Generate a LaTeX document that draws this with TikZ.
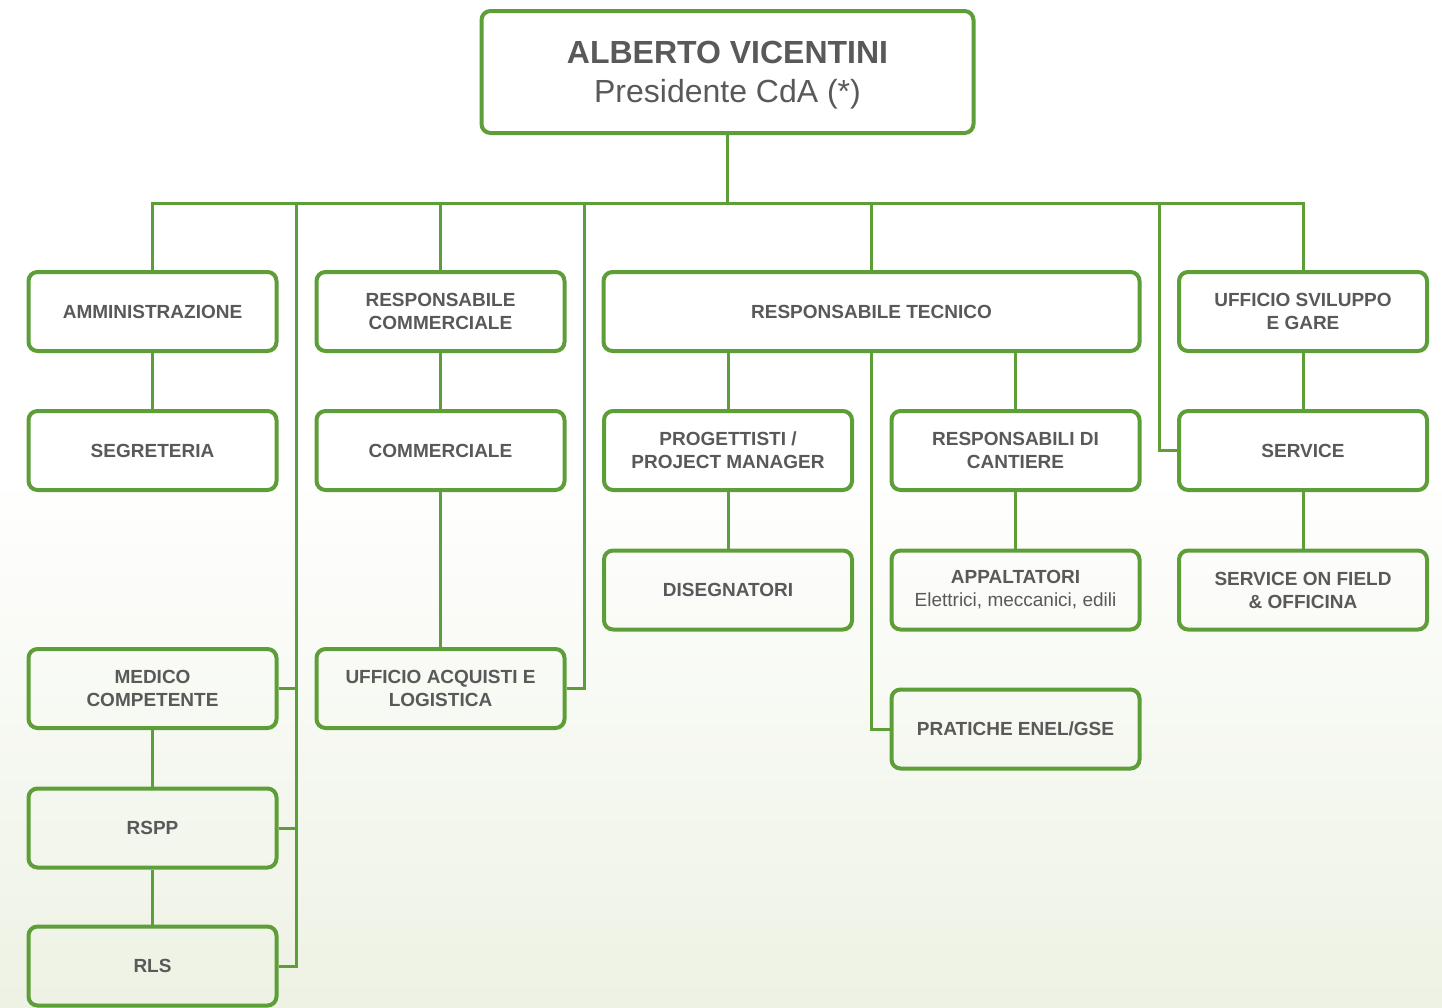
\documentclass[tikz,border=0pt]{standalone}
\usepackage{fontspec}
\setmainfont{Liberation Sans}
\definecolor{grn}{RGB}{94,158,56}
\definecolor{txt}{RGB}{89,89,89}
\definecolor{bgb}{RGB}{237,242,228}
\tikzset{
  box/.style={draw=grn, line width=4pt, rounded corners=9pt, align=center,
    text=txt, inner sep=0pt, font=\bfseries\fontsize{19}{23}\selectfont,
    minimum width=248pt, minimum height=79pt},
  conn/.style={draw=grn, line width=3pt}
}
\begin{document}
\begin{tikzpicture}[x=1pt,y=-1pt]
\useasboundingbox (0,0) rectangle (1442,1007);
\fill[white] (0,0) rectangle (1442,1007);
\shade[top color=white,bottom color=bgb] (0,470) rectangle (1442,1007);

\node[box, minimum width=492pt, minimum height=122pt] (pres) at (727.5,72) {};
\node[text=txt, align=center, font=\fontsize{32}{39}\selectfont, inner sep=0pt] (prestxt) at (727.5,75) {\textbf{ALBERTO VICENTINI}\\Presidente CdA (*)};

\node[box] (ammin) at (152.5,311.5) {AMMINISTRAZIONE};
\node[box] (rcomm) at (440.5,311.5) {RESPONSABILE\\COMMERCIALE};
\node[box, minimum width=536pt] (rtec) at (871.5,311.5) {RESPONSABILE TECNICO};
\node[box] (usv) at (1303,311.5) {UFFICIO SVILUPPO\\E GARE};

\node[box] (segr) at (152.5,450.5) {SEGRETERIA};
\node[box] (comm) at (440.5,450.5) {COMMERCIALE};
\node[box] (prog) at (728,450.5) {PROGETTISTI /\\PROJECT MANAGER};
\node[box] (rcant) at (1015.5,450.5) {RESPONSABILI DI\\CANTIERE};
\node[box] (serv) at (1303,450.5) {SERVICE};

\node[box] (dis) at (728,590) {DISEGNATORI};
\node[box] (appa) at (1015.5,590) {APPALTATORI\\{\mdseries Elettrici, meccanici, edili}};
\node[box] (sof) at (1303,590) {SERVICE ON FIELD\\\& OFFICINA};

\node[box] (med) at (152.5,688.5) {MEDICO\\COMPETENTE};
\node[box] (uacq) at (440.5,688.5) {UFFICIO ACQUISTI E\\LOGISTICA};
\node[box] (prat) at (1015.5,729) {PRATICHE ENEL/GSE};

\node[box] (rspp) at (152.5,828) {RSPP};
\node[box] (rls) at (152.5,966) {RLS};

% bus
\coordinate (busL) at (152.5,203);
\coordinate (busR) at (1303,203);
\coordinate (spL) at (296,203);
\coordinate (spM) at (584,203);
\coordinate (spR) at (1159,203);

\draw[conn] (ammin.north) -- (busL) -- (busR) -- (usv.north);
\draw[conn] (pres.south) -- (pres.south |- busL);
\draw[conn] (rcomm.north) -- (rcomm.north |- busL);
\draw[conn] (rtec.north) -- (rtec.north |- busL);

\draw[conn] (spL) |- (rls.east);
\draw[conn] (med.east) -- (med.east -| spL);
\draw[conn] (rspp.east) -- (rspp.east -| spL);
\draw[conn] (spM) |- (uacq.east);
\draw[conn] (spR) |- (serv.west);

\draw[conn] (ammin.south) -- (segr.north);
\draw[conn] (med.south) -- (rspp.north);
\draw[conn] (rspp.south) -- (rls.north);
\draw[conn] (rcomm.south) -- (comm.north);
\draw[conn] (comm.south) -- (uacq.north);

\draw[conn] (prog.north |- rtec.south) -- (prog.north);
\draw[conn] (rcant.north |- rtec.south) -- (rcant.north);
\draw[conn] (rtec.south) |- (prat.west);
\draw[conn] (prog.south) -- (dis.north);
\draw[conn] (rcant.south) -- (appa.north);
\draw[conn] (usv.south) -- (serv.north);
\draw[conn] (serv.south) -- (sof.north);
\end{tikzpicture}
\end{document}
